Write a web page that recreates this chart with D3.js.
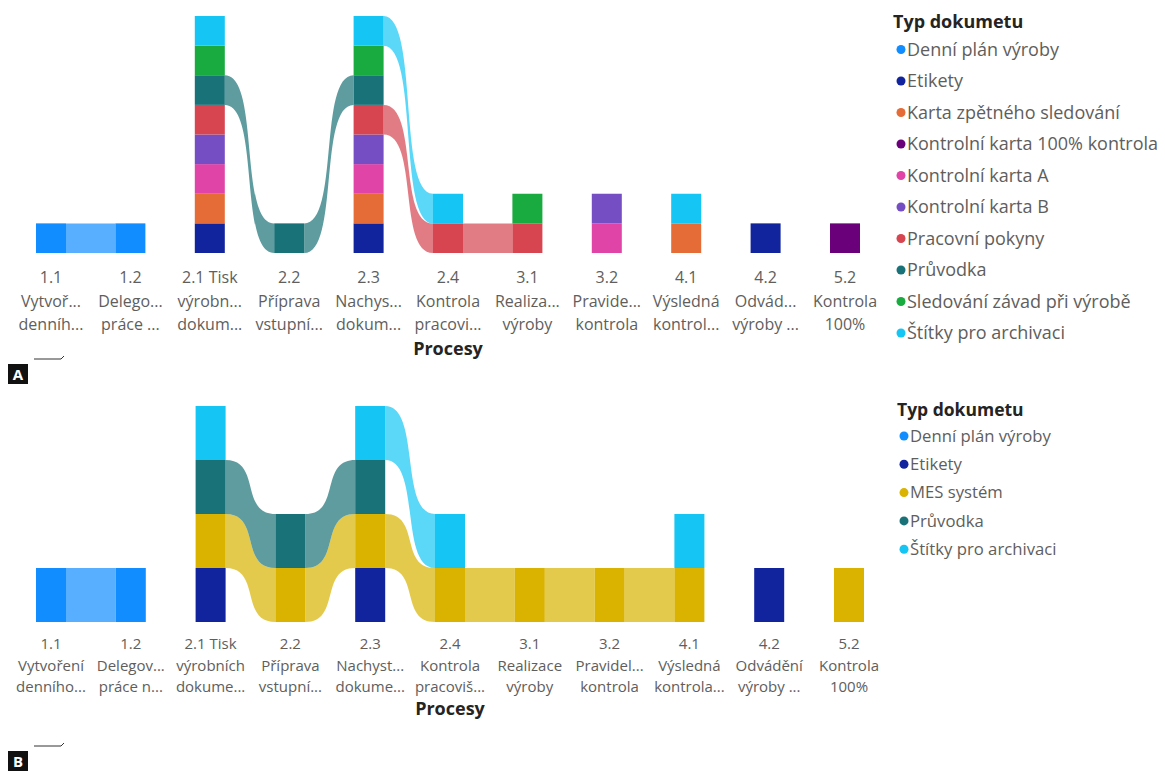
<!DOCTYPE html>
<html>
<head>
<meta charset="utf-8">
<script src="https://cdn.jsdelivr.net/npm/d3@7"></script>
<style>
  body { margin: 0; background: #fff; }
  svg { display: block; font-family: "Segoe UI", "Open Sans", sans-serif; }
</style>
</head>
<body>
<svg id="chart" width="1165" height="771"></svg>
<script>
// categories (process steps)
const categories = ["1.1", "1.2", "2.1", "2.2", "2.3", "2.4", "3.1", "3.2", "4.1", "4.2", "5.2"];

// tick labels as shown (truncated), per panel
const labelsA = [
  ["1.1", "Vytvoř...", "denníh..."], ["1.2", "Delego...", "práce ..."],
  ["2.1 Tisk", "výrobn...", "dokum..."], ["2.2", "Příprava", "vstupní..."],
  ["2.3", "Nachys...", "dokum..."], ["2.4", "Kontrola", "pracovi..."],
  ["3.1", "Realiza...", "výroby"], ["3.2", "Pravide...", "kontrola"],
  ["4.1", "Výsledná", "kontrol..."], ["4.2", "Odvád...", "výroby ..."],
  ["5.2", "Kontrola", "100%"]
];
const labelsB = [
  ["1.1", "Vytvoření", "denního..."], ["1.2", "Delegov...", "práce n..."],
  ["2.1 Tisk", "výrobních", "dokume..."], ["2.2", "Příprava", "vstupní..."],
  ["2.3", "Nachyst...", "dokume..."], ["2.4", "Kontrola", "pracoviš..."],
  ["3.1", "Realizace", "výroby"], ["3.2", "Pravidel...", "kontrola"],
  ["4.1", "Výsledná", "kontrola..."], ["4.2", "Odvádění", "výroby ..."],
  ["5.2", "Kontrola", "100%"]
];

// panel A series
const seriesA = ["Denní plán výroby", "Etikety", "Karta zpětného sledování",
  "Kontrolní karta 100% kontrola", "Kontrolní karta A", "Kontrolní karta B",
  "Pracovní pokyny", "Průvodka", "Sledování závad při výrobě", "Štítky pro archivaci"];
const colorsA = ["#118DFF", "#12239E", "#E66C37", "#6B007B", "#E044A7", "#744EC2",
  "#D64550", "#197278", "#1AAB40", "#15C6F4"];
const valuesA = [
  [1, 1, 0, 0, 0, 0, 0, 0, 0, 0, 0],
  [0, 0, 1, 0, 1, 0, 0, 0, 0, 1, 0],
  [0, 0, 1, 0, 1, 0, 0, 0, 1, 0, 0],
  [0, 0, 0, 0, 0, 0, 0, 0, 0, 0, 1],
  [0, 0, 1, 0, 1, 0, 0, 1, 0, 0, 0],
  [0, 0, 1, 0, 1, 0, 0, 1, 0, 0, 0],
  [0, 0, 1, 0, 1, 1, 1, 0, 0, 0, 0],
  [0, 0, 1, 1, 1, 0, 0, 0, 0, 0, 0],
  [0, 0, 1, 0, 1, 0, 1, 0, 0, 0, 0],
  [0, 0, 1, 0, 1, 1, 0, 0, 1, 0, 0]
];

// panel B series
const seriesB = ["Denní plán výroby", "Etikety", "MES systém", "Průvodka", "Štítky pro archivaci"];
const colorsB = ["#118DFF", "#12239E", "#D9B300", "#197278", "#15C6F4"];
const valuesB = [
  [1, 1, 0, 0, 0, 0, 0, 0, 0, 0, 0],
  [0, 0, 1, 0, 1, 0, 0, 0, 0, 1, 0],
  [0, 0, 1, 1, 1, 1, 1, 1, 1, 0, 1],
  [0, 0, 1, 1, 1, 0, 0, 0, 0, 0, 0],
  [0, 0, 1, 0, 1, 1, 0, 0, 1, 0, 0]
];

const svg = d3.select("#chart");
const barW = 30;

function ribbonPath(xa, ya0, ya1, xb, yb0, yb1) {
  const k = 0.72 * (xb - xa);
  return `M${xa},${ya1} C${xa + k},${ya1} ${xb - k},${yb1} ${xb},${yb1}` +
    ` L${xb},${yb0} C${xb - k},${yb0} ${xa + k},${ya0} ${xa},${ya0} Z`;
}

function drawPanel(opts) {
  const { series, colors, values, labels, xRange, yRange, maxY, legend, axis } = opts;
  const g = svg.append("g");

  const x = d3.scalePoint().domain(categories).range(xRange);
  const y = d3.scaleLinear().domain([0, maxY]).range(yRange);

  const rows = categories.map((c, j) => {
    const r = { cat: c };
    series.forEach((s, i) => { r[s] = values[i][j]; });
    return r;
  });
  const stacked = d3.stack().keys(series)(rows);

  // ribbons between neighbouring categories
  stacked.forEach((layer, i) => {
    for (let j = 0; j < categories.length - 1; j++) {
      const a = layer[j], b = layer[j + 1];
      if (a[1] - a[0] > 0 && b[1] - b[0] > 0) {
        g.append("path")
          .attr("d", ribbonPath(x(categories[j]) + barW / 2, y(a[0]), y(a[1]),
            x(categories[j + 1]) - barW / 2, y(b[0]), y(b[1])))
          .attr("fill", colors[i])
          .attr("fill-opacity", 0.7);
      }
    }
  });

  // bars
  stacked.forEach((layer, i) => {
    g.selectAll(null)
      .data(layer.filter(d => d[1] - d[0] > 0))
      .join("rect")
      .attr("x", d => x(d.data.cat) - barW / 2)
      .attr("y", d => y(d[1]))
      .attr("width", barW)
      .attr("height", d => y(d[0]) - y(d[1]))
      .attr("fill", colors[i]);
  });

  // x axis labels
  labels.forEach((lines, j) => {
    const t = g.append("text")
      .attr("x", x(categories[j]))
      .attr("y", axis.y)
      .attr("text-anchor", "middle")
      .attr("fill", "#605E5C")
      .attr("font-size", axis.size);
    lines.forEach((ln, k) => {
      t.append("tspan").attr("x", x(categories[j])).attr("dy", k === 0 ? 0 : axis.lh).text(ln);
    });
  });
  g.append("text")
    .attr("x", (xRange[0] + xRange[1]) / 2)
    .attr("y", axis.titleY)
    .attr("text-anchor", "middle")
    .attr("font-weight", "bold")
    .attr("font-size", 18)
    .attr("fill", "#252423")
    .text("Procesy");

  // legend
  const lg = g.append("g");
  lg.append("text")
    .attr("x", legend.x)
    .attr("y", legend.titleY)
    .attr("font-weight", "bold")
    .attr("font-size", legend.titleSize)
    .attr("fill", "#252423")
    .text("Typ dokumetu");
  series.forEach((s, i) => {
    const yy = legend.y0 + i * legend.step;
    lg.append("circle").attr("cx", legend.dotX).attr("cy", yy).attr("r", 4.5).attr("fill", colors[i]);
    lg.append("text")
      .attr("x", legend.dotX + 6)
      .attr("y", yy)
      .attr("dy", "0.35em")
      .attr("font-size", legend.size)
      .attr("fill", "#605E5C")
      .text(s);
  });
}

drawPanel({
  series: seriesA, colors: colorsA, values: valuesA, labels: labelsA,
  xRange: [51, 845], yRange: [253, 16], maxY: 8,
  axis: { y: 283, lh: 23.5, size: 16, titleY: 355 },
  legend: { x: 893, titleY: 28, titleSize: 18, size: 18, dotX: 901, y0: 49.5, step: 31.5 }
});
drawPanel({
  series: seriesB, colors: colorsB, values: valuesB, labels: labelsB,
  xRange: [51, 849], yRange: [622, 406], maxY: 4,
  axis: { y: 649, lh: 21.5, size: 15, titleY: 715 },
  legend: { x: 897, titleY: 416, titleSize: 17.5, size: 16.7, dotX: 904, y0: 436, step: 28.3 }
});

// panel markers
function marker(letter, by) {
  svg.append("rect").attr("x", 8).attr("y", by).attr("width", 20).attr("height", 20).attr("fill", "#111");
  svg.append("text").attr("x", 18).attr("y", by + 16).attr("text-anchor", "middle")
    .attr("font-weight", "bold").attr("font-size", 15).attr("fill", "#fff").text(letter);
  svg.append("path").attr("d", `M34,${by - 5} L61,${by - 5} L64,${by - 8}`)
    .attr("fill", "none").attr("stroke", "#333").attr("stroke-width", 1);
}
marker("A", 364);
marker("B", 751);
</script>
</body>
</html>
